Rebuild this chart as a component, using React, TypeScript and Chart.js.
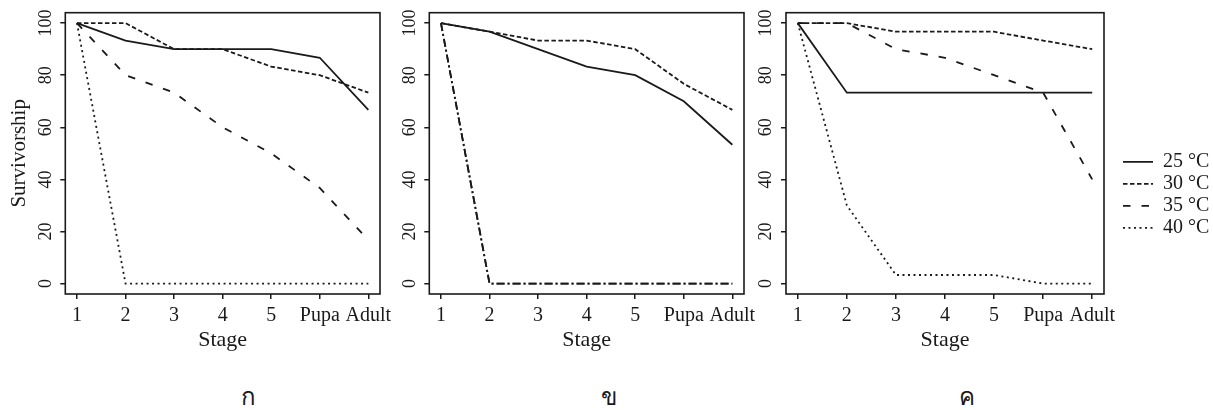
import React, { useEffect, useRef } from 'react';
import { Chart, registerables } from 'chart.js';

Chart.register(...registerables);

const FONT = "'Liberation Serif', 'Times New Roman', serif";
const INK = '#1a1a1a';

// ---- data ----
const stageLabels = ['1', '2', '3', '4', '5', 'Pupa', 'Adult'];
const stagePositions = [1, 2, 3, 4, 5, 6, 7];
const yTickValues = [0, 20, 40, 60, 80, 100];
const seriesNames = ['25 °C', '30 °C', '35 °C', '40 °C'];
const panelLabels = ['ก', 'ข', 'ค'];

const panelA_25 = [100, 93.3, 90, 90, 90, 86.7, 66.7];
const panelA_30 = [100, 100, 90, 90, 83.3, 80, 73.3];
const panelA_35 = [100, 80, 73.3, 60, 50, 36.7, 16.7];
const panelA_40 = [100, 0, 0, 0, 0, 0, 0];

const panelB_25 = [100, 96.7, 90, 83.3, 80, 70, 53.3];
const panelB_30 = [100, 96.7, 93.3, 93.3, 90, 76.7, 66.7];
const panelB_35 = [100, 0, 0, 0, 0, 0, 0];
const panelB_40 = [100, 0, 0, 0, 0, 0, 0];

const panelC_25 = [100, 73.3, 73.3, 73.3, 73.3, 73.3, 73.3];
const panelC_30 = [100, 100, 96.7, 96.7, 96.7, 93.3, 90];
const panelC_35 = [100, 100, 90, 86.7, 80, 73.3, 40];
const panelC_40 = [100, 30, 3.3, 3.3, 3.3, 0, 0];

// ---- styles ----
const dashSolid: number[] = [];
const dashShort = [4.5, 2.5];
const dashLong = [7.5, 11];
const dashDot = [2, 3.5];
const dashDotDash = [8, 3, 2, 3];

type Panel = {
  left: number;
  width: number;
  height: number;
  yAxisWidth: number;
  padRight: number;
  titleBottomPad: number;
  showYTitle: boolean;
  showLegend: boolean;
  series: number[][];
  dashes: number[][];
  labelX: number;
};

const panels: Panel[] = [
  {
    left: 0, width: 400, height: 360, yAxisWidth: 65.3, padRight: 20, titleBottomPad: 6.8,
    showYTitle: true, showLegend: false,
    series: [panelA_25, panelA_30, panelA_35, panelA_40],
    dashes: [dashSolid, dashShort, dashLong, dashDot], labelX: 248,
  },
  {
    left: 400, width: 360, height: 360, yAxisWidth: 29.3, padRight: 16, titleBottomPad: 6.8,
    showYTitle: false, showLegend: false,
    series: [panelB_25, panelB_30, panelB_35, panelB_40],
    dashes: [dashSolid, dashShort, dashDotDash, dashDotDash], labelX: 609,
  },
  {
    left: 750, width: 463, height: 377, yAxisWidth: 36, padRight: 0, titleBottomPad: 23.8,
    showYTitle: false, showLegend: true,
    series: [panelC_25, panelC_30, panelC_35, panelC_40],
    dashes: [dashSolid, dashShort, dashLong, dashDot], labelX: 967,
  },
];

const PLOT_TOP = 12.7;
const PLOT_BOTTOM = 294;
const LINE_W = 1.8;

const framePlugin = {
  id: 'frame',
  afterDatasetsDraw(chart: any) {
    const { ctx, chartArea: a } = chart;
    ctx.save();
    ctx.strokeStyle = INK;
    ctx.lineWidth = 1.6;
    ctx.strokeRect(a.left, a.top, a.right - a.left, a.bottom - a.top);
    ctx.restore();
  },
};

function buildConfig(p: Panel): any {
  const datasets = p.series.map((vals, i) => ({
    label: seriesNames[i],
    data: vals.map((v, j) => ({ x: stagePositions[j], y: v })),
    borderColor: INK,
    backgroundColor: 'rgba(0,0,0,0)',
    borderWidth: LINE_W,
    borderDash: p.dashes[i],
    pointRadius: 0,
    pointHoverRadius: 0,
    tension: 0,
    fill: false,
  }));

  const tickGrid = {
    display: true,
    drawOnChartArea: false,
    drawTicks: true,
    tickLength: 5,
    color: INK,
    lineWidth: 1.5,
  };

  const scales: any = {
    x: {
      type: 'linear',
      position: 'bottom',
      min: 0.76,
      max: 7.24,
      afterBuildTicks: (s: any) => {
        s.ticks = stagePositions.map((v) => ({ value: v }));
      },
      afterFit: (s: any) => {
        s.height = p.height - PLOT_BOTTOM;
        s.paddingLeft = 0;
        s.paddingRight = 0;
      },
      ticks: {
        color: INK,
        font: { family: FONT, size: 20 },
        padding: 5,
        maxRotation: 0,
        minRotation: 0,
        autoSkip: false,
        callback: (_v: any, idx: number) => stageLabels[idx],
      },
      grid: tickGrid,
      border: { display: false },
      title: {
        display: true,
        text: 'Stage',
        color: INK,
        font: { family: FONT, size: 22 },
        padding: { top: 0, bottom: p.titleBottomPad },
      },
    },
    y: {
      type: 'linear',
      position: 'left',
      min: -4,
      max: 104,
      afterBuildTicks: (s: any) => {
        s.ticks = yTickValues.map((v) => ({ value: v }));
      },
      afterFit: (s: any) => {
        s.width = p.yAxisWidth;
        s.paddingTop = 0;
        s.paddingBottom = 0;
      },
      ticks: {
        color: INK,
        font: { family: FONT, size: 18 },
        padding: 1,
        minRotation: 90,
        maxRotation: 90,
        crossAlign: 'center',
        autoSkip: false,
        callback: (v: any) => String(v),
      },
      grid: tickGrid,
      border: { display: false },
      title: {
        display: p.showYTitle,
        text: 'Survivorship',
        color: INK,
        font: { family: FONT, size: 21 },
        padding: { top: 6.4, bottom: 0 },
      },
    },
  };

  if (p.showLegend) {
    scales.gap = {
      type: 'linear',
      position: 'right',
      display: true,
      ticks: { display: false },
      grid: { display: false },
      border: { display: false },
      afterFit: (s: any) => {
        s.width = 17;
      },
    };
  }

  return {
    type: 'line',
    data: { datasets },
    plugins: [framePlugin],
    options: {
      animation: false,
      responsive: false,
      maintainAspectRatio: false,
      events: [],
      layout: { padding: { left: 0, right: p.padRight, top: PLOT_TOP, bottom: 0 } },
      scales,
      plugins: {
        tooltip: { enabled: false },
        title: { display: false },
        legend: {
          display: p.showLegend,
          position: 'right',
          align: 'center',
          maxWidth: 92,
          labels: {
            usePointStyle: true,
            pointStyle: 'line',
            pointStyleWidth: 30,
            padding: 2,
            color: INK,
            font: { family: FONT, size: 20 },
            generateLabels: (chart: any) => {
              const base = (Chart.defaults as any).plugins.legend.labels.generateLabels(chart);
              return base.map((it: any) => {
                const ds = chart.data.datasets[it.datasetIndex];
                return {
                  ...it,
                  lineDash: ds.borderDash,
                  lineWidth: LINE_W,
                  strokeStyle: INK,
                  fillStyle: 'rgba(0,0,0,0)',
                  pointStyle: 'line',
                };
              });
            },
          },
        },
      },
    },
  };
}

function PanelChart({ p }: { p: Panel }) {
  const ref = useRef<HTMLCanvasElement | null>(null);
  useEffect(() => {
    if (!ref.current) return;
    const chart = new Chart(ref.current, buildConfig(p));
    return () => chart.destroy();
  }, [p]);
  return (
    <canvas
      ref={ref}
      width={p.width}
      height={p.height}
      style={{ position: 'absolute', left: p.left, top: 0, width: p.width, height: p.height }}
    />
  );
}

export default function App() {
  return (
    <div style={{ position: 'absolute', left: 0, top: 0, width: 1213, height: 410, background: '#fff', overflow: 'hidden' }}>
      {panels.map((p, i) => (
        <PanelChart key={i} p={p} />
      ))}
      {panels.map((p, i) => (
        <div
          key={'l' + i}
          style={{
            position: 'absolute',
            left: p.labelX - 40,
            width: 80,
            top: 384,
            textAlign: 'center',
            fontFamily: FONT,
            fontSize: 24,
            lineHeight: '26px',
            color: INK,
          }}
        >
          {panelLabels[i]}
        </div>
      ))}
    </div>
  );
}
